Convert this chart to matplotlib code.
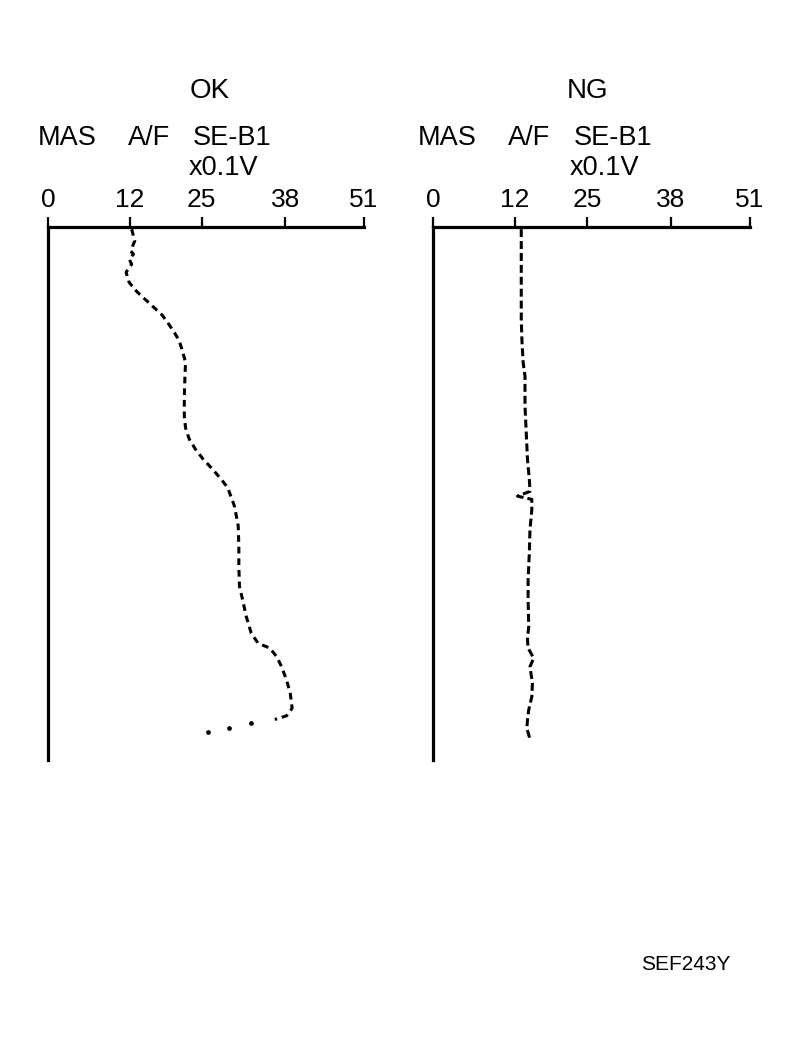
import matplotlib
matplotlib.use("Agg")
import matplotlib.pyplot as plt

plt.rcParams['font.family'] = ['Liberation Sans', 'DejaVu Sans']

# time runs downward (0 = top of the trace, 100 = bottom of the axis)
ok_time = [0.4, 2.6, 4.5, 5.1, 6.0, 7.0, 8.5, 10.4, 12.2, 13.7, 15.1, 16.5, 17.9,
           19.8, 21.4, 23.3, 25.4, 28.0, 31.7, 35.5, 37.7, 39.8, 41.7, 43.5, 45.5,
           47.4, 48.9, 52.4, 56.1, 59.9, 63.7, 67.4, 69.9, 73.1, 76.2, 78.1, 79.0,
           80.6, 82.5, 85.0, 87.5, 90.3, 91.7, 92.4]
ok_volt = [13.5, 14.0, 13.35, 13.8, 13.1, 13.5, 12.6, 13.1, 14.4, 15.8, 17.1, 18.4,
           19.3, 20.4, 21.2, 21.7, 22.2, 22.1, 22.0, 22.0, 22.2, 22.8, 23.8, 25.0,
           26.6, 28.0, 29.0, 30.1, 30.7, 30.8, 30.8, 30.9, 31.4, 32.0, 32.8, 33.9,
           35.8, 36.9, 37.7, 38.5, 39.1, 39.4, 38.5, 36.6]
# last few samples only show up as isolated dots
ok_tail_time = [93.1, 94.0, 94.7]
ok_tail_volt = [32.7, 29.2, 25.8]

ng_time = [0.4, 11.0, 17.3, 21.1, 25.4, 28.0, 33.6, 38.6, 43.6, 47.4, 49.6, 50.5,
           51.1, 53.0, 56.8, 61.1, 66.2, 69.9, 74.9, 77.4, 79.0, 80.9, 82.5, 85.6,
           88.1, 90.6, 92.5, 94.0, 96.1]
ng_volt = [14.2, 14.2, 14.2, 14.3, 14.5, 14.8, 14.8, 15.0, 15.2, 15.5, 15.6, 13.6,
           15.9, 15.9, 15.6, 15.5, 15.3, 15.3, 15.4, 15.2, 15.3, 16.2, 15.6, 16.0,
           15.9, 15.4, 15.2, 15.1, 15.6]

tick_pos = [0, 13.2, 24.8, 38.3, 51]
tick_labels = ['0', '12', '25', '38', '51']
header_words = ['MAS', 'A/F', 'SE-B1']

W, H = 796, 1046
fig = plt.figure(figsize=(W / 100, H / 100), dpi=100)


def px(x, y):
    return x / W, 1 - y / H


def make_panel(left, right, top, bottom):
    ax = fig.add_axes([left / W, 1 - bottom / H, (right - left) / W, (bottom - top) / H])
    ax.set_xlim(0, 51)
    ax.set_ylim(100, 0)
    for s in ['right', 'bottom']:
        ax.spines[s].set_visible(False)
    for s in ['left', 'top']:
        ax.spines[s].set_linewidth(2.3)
    ax.xaxis.tick_top()
    ax.set_xticks(tick_pos)
    ax.set_xticklabels(tick_labels)
    ax.tick_params(axis='x', direction='out', length=7.5, width=1.6, pad=3, labelsize=19)
    ax.set_yticks([])
    ax.patch.set_visible(False)
    return ax


ax1 = make_panel(48, 364, 227, 760)
ax1.plot(ok_volt, ok_time, color='black', lw=2.2, ls=(0, (2.2, 1.6)))
ax1.plot(ok_tail_volt, ok_tail_time, color='black', ls='none', marker='o', ms=2.4)

ax2 = make_panel(433, 750, 227, 760)
ax2.plot(ng_volt, ng_time, color='black', lw=2.2, ls=(0, (2.6, 1.3)))

# headers
panels = [('OK', 210, 223, [67.5, 149, 232.5]),
          ('NG', 588, 605, [447.5, 529, 613])]
for title, cx, cx2, word_x in panels:
    fig.text(*px(cx, 98), title, ha='center', va='baseline', fontsize=20)
    for word, wx in zip(header_words, word_x):
        fig.text(*px(wx, 145), word, ha='center', va='baseline', fontsize=19.5)
    fig.text(*px(cx2, 175), 'x0.1V', ha='center', va='baseline', fontsize=19.5)

fig.text(*px(686, 970), 'SEF243Y', ha='center', va='baseline', fontsize=15)

fig.savefig('out.png', dpi=100, facecolor='white')
